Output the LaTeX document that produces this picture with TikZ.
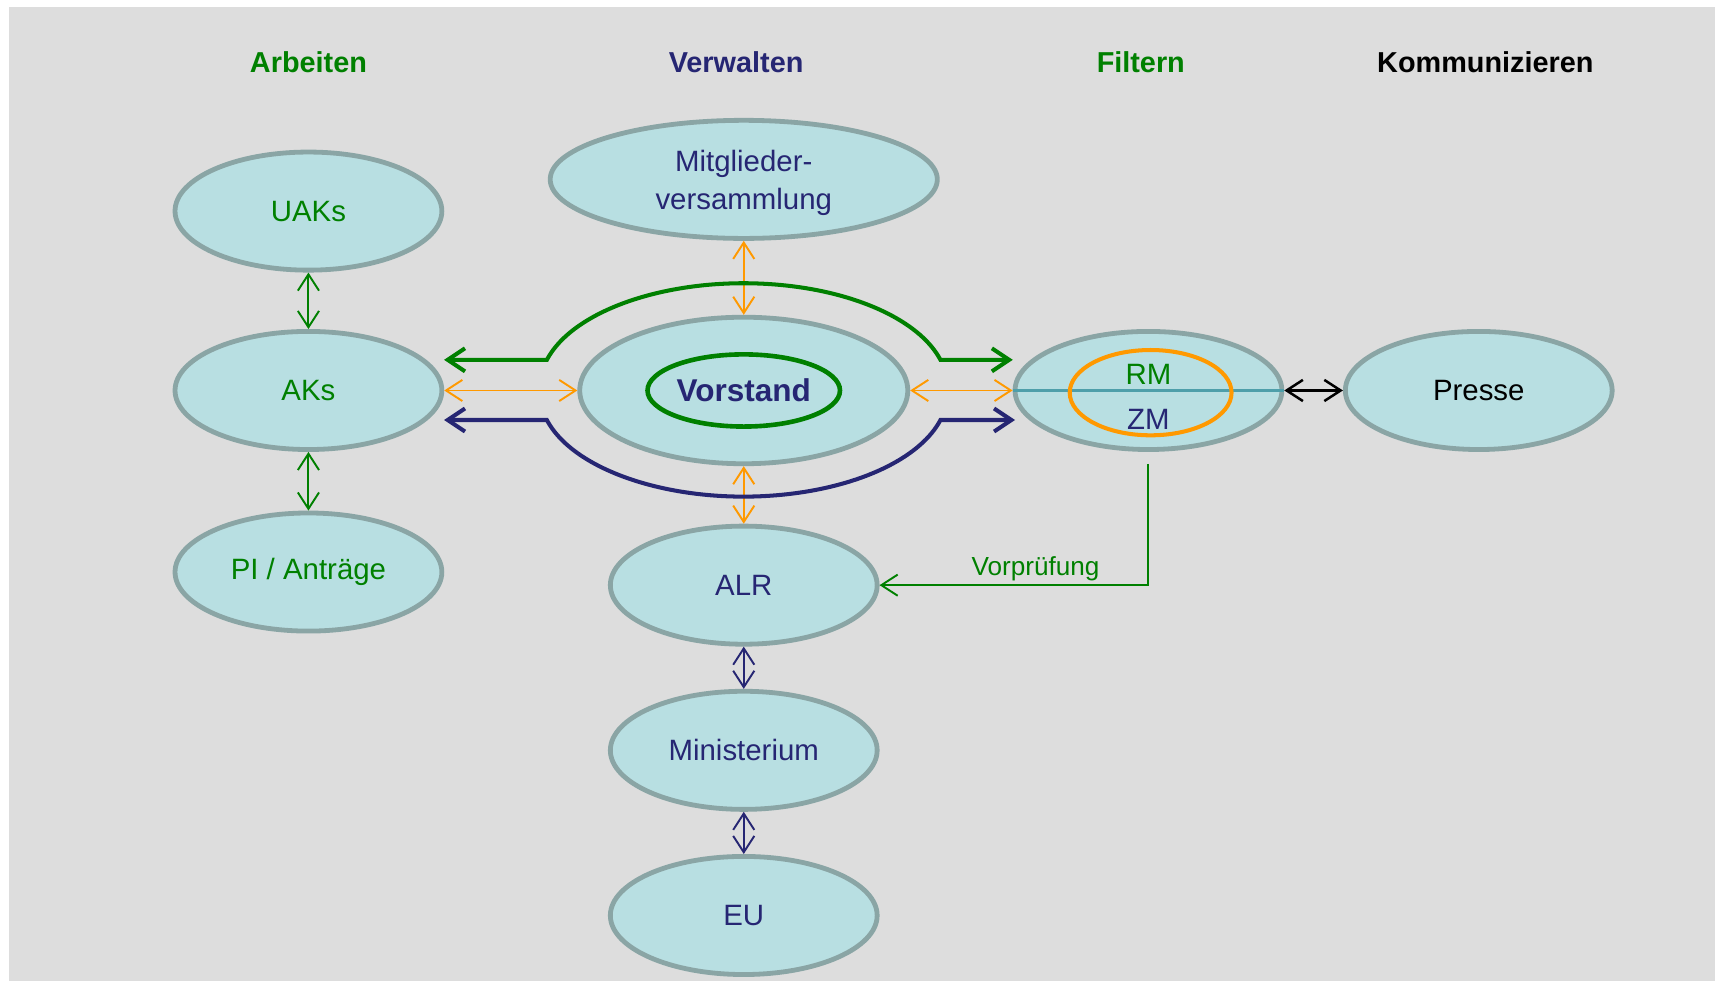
\documentclass[tikz,border=0pt]{standalone}
\usepackage{fontspec}
\setmainfont{Liberation Sans}
\usetikzlibrary{shapes.geometric,arrows.meta}

\definecolor{hgrau}{HTML}{DDDDDD}
\definecolor{blasenfill}{HTML}{B8DFE2}
\definecolor{blasenrand}{HTML}{8AA5A5}
\definecolor{gruen}{HTML}{008000}
\definecolor{marine}{HTML}{262673}
\definecolor{gelbrot}{HTML}{FF9900}
\definecolor{tuerkis}{HTML}{4E9FAA}

\tikzset{
  blase/.style={ellipse, draw=blasenrand, line width=2.5pt, fill=blasenfill,
    inner sep=0pt, minimum width=4.88cm, minimum height=2.16cm,
    align=center, font=\fontsize{15.3}{19.8}\selectfont},
  kopf/.style={font=\fontsize{15}{18}\selectfont\bfseries},
  pfeil/.style={{Straight Barb[length=8.5pt,width=11pt]}-{Straight Barb[length=8.5pt,width=11pt]},
    line width=1pt},
  bogen/.style={{Straight Barb[length=9pt,width=12pt]}-{Straight Barb[length=9pt,width=12pt]},
    line width=2.1pt},
}

\begin{document}
\begin{tikzpicture}[x=0.02cm,y=0.02cm]
        % Hintergrund.
        \useasboundingbox (0,0) rectangle (1568,-896);
        \fill[white] (0,0) rectangle (1568,-896);
        \fill[hgrau] (8.2,-6.4) rectangle (1580,-910);

        % Spaltenkoepfe.
        \node[kopf, text=gruen] (hArbeiten) at (282,-57) {Arbeiten};
        \node[kopf, text=marine] (hVerwalten) at (673,-57) {Verwalten};
        \node[kopf, text=gruen] (hFiltern) at (1043,-57) {Filtern};
        \node[kopf, text=black] (hKomm) at (1358,-57) {Kommunizieren};

        % Arbeiten.
        \node[blase, text=gruen] (uaks) at (282,-193) {UAKs};
        \node[blase, text=gruen] (aks) at (282,-357) {AKs};
        \node[blase, text=gruen] (pi) at (282,-523) {PI / Anträge};
        \draw[pfeil, gruen] (uaks) -- (aks);
        \draw[pfeil, gruen] (aks) -- (pi);

        % Verwalten.
        \node[blase, text=marine, text depth=0pt, minimum width=7.08cm] (mv) at (680,-164) {Mitglieder-\\versammlung};
        \node[blase, minimum width=6.0cm, minimum height=2.68cm] (vorstand) at (680,-357) {};
        \node[ellipse, draw=gruen, line width=2.4pt, inner sep=0pt, minimum width=3.52cm,
          minimum height=1.32cm, text=marine, font=\fontsize{16.4}{19}\selectfont\bfseries]
          (vkern) at (680,-357) {Vorstand};
        \node[blase, text=marine] (alr) at (680,-535) {ALR};
        \node[blase, text=marine] (min) at (680,-686) {Ministerium};
        \node[blase, text=marine] (eu) at (680,-837) {EU};
        \draw[pfeil, gelbrot] (mv) -- (vorstand);
        \draw[pfeil, gelbrot] (vorstand) -- (alr);
        \draw[pfeil, marine] (alr) -- (min);
        \draw[pfeil, marine] (min) -- (eu);

        % Filtern.
        \node[blase] (filter) at (1050,-357) {};
        \draw[tuerkis, line width=1.3pt] (filter.west) -- (filter.east);
        \node[ellipse, draw=gelbrot, line width=2.1pt, inner sep=0pt, minimum width=2.96cm,
          minimum height=1.56cm] (rmzm) at (1052,-359) {};
        \node[text=gruen, font=\fontsize{15.3}{18}\selectfont] (rm) at (1050,-342) {RM};
        \node[text=marine, font=\fontsize{15.3}{18}\selectfont] (zm) at (1050,-383) {ZM};

        % Kommunizieren.
        \node[blase, text=black] (presse) at (1352,-357) {Presse};
        \draw[pfeil, black, line width=1.3pt] (filter) -- (presse);

        % Querverbindungen.
        \draw[pfeil, gelbrot] (aks) -- (vorstand);
        \draw[pfeil, gelbrot] (vorstand) -- (filter);

        % Boegen um den Vorstand.
        \coordinate (gw) at (406,-329);
        \coordinate (ge) at (926,-329);
        \coordinate (mw) at (406,-384);
        \coordinate (me) at (928,-384);
        \draw[bogen, gruen] (gw) -- (500,-329)
          arc[start angle=165, end angle=15, x radius=3.726cm, y radius=1.89cm] -- (ge);
        \draw[bogen, marine] (mw) -- (500,-384)
          arc[start angle=195, end angle=345, x radius=3.726cm, y radius=1.89cm] -- (me);

        % Vorpruefung.
        \draw[-{Straight Barb[length=8.5pt,width=11pt]}, gruen, line width=1pt]
          ([yshift=-0.22cm]filter.south) |- (alr)
          node[pos=0.71, above, inner sep=1.5pt, font=\fontsize{13.6}{16}\selectfont] (vp) {Vorprüfung};
\end{tikzpicture}
\end{document}
